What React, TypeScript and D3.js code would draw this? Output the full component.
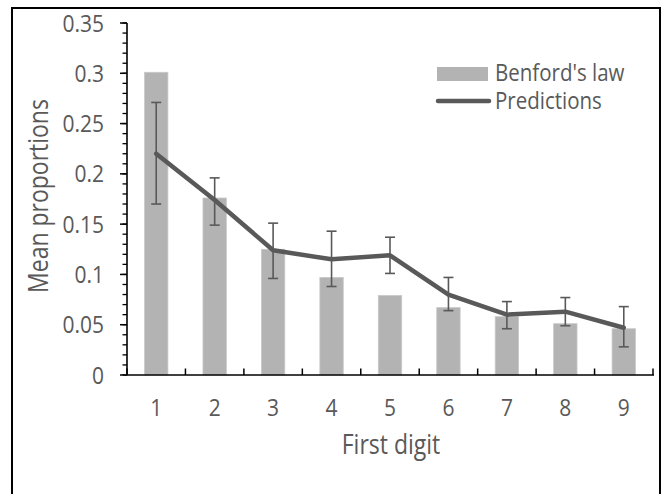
import * as d3 from 'd3';

const DIGITS = ['1', '2', '3', '4', '5', '6', '7', '8', '9'];
const BENFORD = [0.301, 0.176, 0.125, 0.097, 0.079, 0.067, 0.058, 0.051, 0.046];
const PRED = [0.220, 0.174, 0.124, 0.115, 0.119, 0.080, 0.060, 0.063, 0.047];
const PRED_HI = [0.271, 0.196, 0.151, 0.143, 0.137, 0.097, 0.073, 0.077, 0.068];
const PRED_LO = [0.170, 0.149, 0.096, 0.088, 0.101, 0.064, 0.046, 0.049, 0.028];
const Y_TICKS = [0, 0.05, 0.1, 0.15, 0.2, 0.25, 0.3, 0.35];
const LEGEND = ["Benford's law", 'Predictions'];

const W = 661;
const H = 494;
const BAR = '#b3b3b3';
const LINE = '#595959';
const TEXT = '#595959';
const FONT = '"Open Sans", "Noto Sans", sans-serif';
const SY = 1.15; // glyphs in the reference are a bit taller than wide

function Label({ x, y, size, anchor = 'start', rotate = 0, children }: {
  x: number; y: number; size: number; anchor?: string; rotate?: number; children: any;
}) {
  return (
    <text transform={`translate(${x},${y}) rotate(${rotate}) scale(1,${SY})`}
      textAnchor={anchor} fontSize={size} fill={TEXT}>{children}</text>
  );
}

export default function App() {
  const x = d3.scaleBand<string>().domain(DIGITS).range([127, 653]).padding(0);
  const y = d3.scaleLinear().domain([0, 0.35]).range([375, 23]);
  const bw = x.bandwidth() / 2.5;
  const cx = (d: string) => (x(d) ?? 0) + x.bandwidth() / 2;

  const line = d3.line<number>()
    .x((_, i) => cx(DIGITS[i]))
    .y(v => y(v));

  const minor = d3.range(0, 0.3501, 0.01);
  const bounds = DIGITS.map(d => x(d) ?? 0).concat([x.range()[1]]);

  return (
    <svg width={W} height={H} style={{ position: 'absolute', left: 0, top: 0, background: '#fff' }}
      fontFamily={FONT}>
      <rect x={12} y={8} width={648} height={520} fill="none" stroke="#000" strokeWidth={2} />

      {/* bars */}
      {BENFORD.map((v, i) => (
        <rect key={i} x={cx(DIGITS[i]) - bw / 2} y={y(v)} width={bw} height={y(0) - y(v)}
          fill={BAR} stroke="#c8c8c8" strokeWidth={0.8} />
      ))}

      {/* y axis */}
      <line x1={127} x2={127} y1={y(0.35)} y2={y(0)} stroke="#000" strokeWidth={1.6} />
      {minor.map((t, i) => (
        <line key={i} x1={122.5} x2={127} y1={y(t)} y2={y(t)} stroke="#000" strokeWidth={1.3} />
      ))}
      {Y_TICKS.map(t => (
        <g key={t}>
          <line x1={120} x2={127} y1={y(t)} y2={y(t)} stroke="#000" strokeWidth={1.5} />
          <Label x={104} y={y(t) + 8.5} size={21} anchor="end">{d3.format('')(t)}</Label>
        </g>
      ))}

      {/* x axis */}
      <line x1={126} x2={654} y1={y(0)} y2={y(0)} stroke="#000" strokeWidth={1.6} />
      {bounds.map((b, i) => (
        <line key={i} x1={b} x2={b} y1={y(0)} y2={y(0) - 6.5} stroke="#000" strokeWidth={1.5} />
      ))}
      {DIGITS.map(d => (
        <Label key={d} x={cx(d)} y={416} size={21} anchor="middle">{d}</Label>
      ))}

      {/* predictions */}
      <path d={line(PRED) ?? ''} fill="none" stroke={LINE} strokeWidth={4.5}
        strokeLinejoin="round" strokeLinecap="round" />
      {PRED.map((_, i) => {
        const px = cx(DIGITS[i]);
        return (
          <g key={i} stroke={LINE} strokeWidth={1.6}>
            <line x1={px} x2={px} y1={y(PRED_HI[i])} y2={y(PRED_LO[i])} />
            <line x1={px - 5} x2={px + 5} y1={y(PRED_HI[i])} y2={y(PRED_HI[i])} />
            <line x1={px - 5} x2={px + 5} y1={y(PRED_LO[i])} y2={y(PRED_LO[i])} />
          </g>
        );
      })}

      {/* legend */}
      <rect x={437} y={67} width={51} height={14} fill={BAR} />
      <line x1={438} x2={489} y1={101} y2={101} stroke={LINE} strokeWidth={4.5} strokeLinecap="round" />
      <Label x={495} y={81} size={20.5}>{LEGEND[0]}</Label>
      <Label x={495} y={109} size={20.5}>{LEGEND[1]}</Label>

      {/* axis titles */}
      <Label x={391} y={454} size={23} anchor="middle">First digit</Label>
      <Label x={48} y={196} size={23} anchor="middle" rotate={-90}>Mean proportions</Label>
    </svg>
  );
}
